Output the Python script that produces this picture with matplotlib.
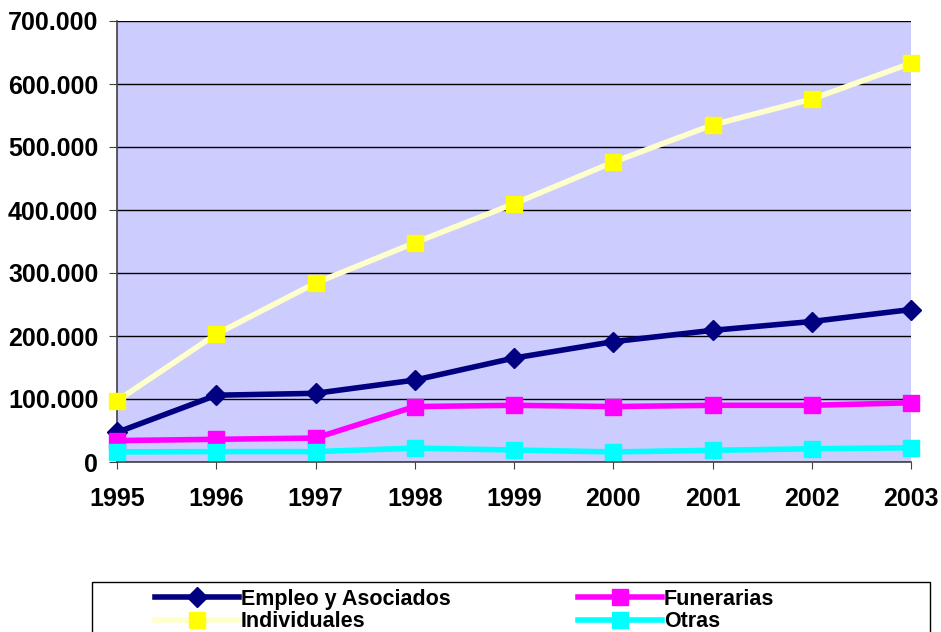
import numpy as np
import matplotlib.pyplot as plt
from matplotlib.ticker import FuncFormatter
from matplotlib.patches import Rectangle

plt.rcParams['font.family'] = ['Liberation Sans', 'DejaVu Sans']
plt.rcParams['font.weight'] = 'bold'

years = [1995, 1996, 1997, 1998, 1999, 2000, 2001, 2002, 2003]
empleo = [47000, 106000, 109000, 130000, 165000, 191000, 209000, 223000, 242000]
funerarias = [34000, 36000, 38000, 88000, 90000, 88000, 90000, 90000, 94000]
individuales = [97000, 203000, 284000, 348000, 410000, 476000, 535000, 576000, 633000]
otras = [16000, 16500, 16500, 22000, 19000, 16000, 18500, 21000, 22500]

W, H = 941, 632
fig = plt.figure(figsize=(W/100, H/100), dpi=100)
ax = fig.add_axes([117/W, 1-462/H, (911-117)/W, (462-21)/H])
ax.set_facecolor('#CCCCFF')

ax.plot(years, individuales, color='#FFFFCC', lw=4, marker='s', ms=11,
        mfc='#FFFF00', mec='#FFFF00', label='Individuales', zorder=3)
ax.plot(years, empleo, color='#000080', lw=4, marker='D', ms=10,
        mfc='#000080', mec='#000080', label='Empleo y Asociados', zorder=4)
ax.plot(years, funerarias, color='#FF00FF', lw=4, marker='s', ms=11,
        mfc='#FF00FF', mec='#FF00FF', label='Funerarias', zorder=4)
ax.plot(years, otras, color='#00FFFF', lw=4, marker='s', ms=11,
        mfc='#00FFFF', mec='#00FFFF', label='Otras', zorder=4)

ax.set_xlim(1995, 2003)
ax.set_ylim(0, 700000)
ax.set_xticks(years)
ax.set_yticks(np.arange(0, 700001, 100000))
ax.yaxis.set_major_formatter(FuncFormatter(
    lambda v, p: '0' if v == 0 else f'{int(v):,}'.replace(',', '.')))
ax.grid(axis='y', color='black', lw=1)
ax.set_axisbelow(True)
for s in ['top', 'right']:
    ax.spines[s].set_visible(False)
for s in ['left', 'bottom']:
    ax.spines[s].set_color('#404040')
    ax.spines[s].set_linewidth(1.2)
ax.tick_params(axis='x', direction='out', length=5, pad=13, labelsize=18,
               color='#404040')
ax.tick_params(axis='y', direction='out', length=5.5, pad=8, labelsize=18,
               color='#404040')
for lab in ax.get_xticklabels() + ax.get_yticklabels():
    lab.set_fontweight('bold')
for line in ax.lines:
    line.set_clip_on(False)

# legend frame (runs past the bottom edge like the original)
fig.patches.append(Rectangle((92/W, -0.05), (930-92)/W, 0.05 + 1-582/H,
                             transform=fig.transFigure, fill=False,
                             edgecolor='black', lw=1))

h, l = ax.get_legend_handles_labels()
order = [1, 0, 2, 3]
leg = fig.legend([h[i] for i in order], [l[i] for i in order], ncol=2,
                 loc='upper left', bbox_to_anchor=(155/W, 1-589/H),
                 frameon=False, prop={'size': 15.5, 'weight': 'bold'},
                 handlelength=3.9, handletextpad=0.1, borderpad=0,
                 labelspacing=0.05, columnspacing=5.9, borderaxespad=0)

fig.savefig('out.png', dpi=100)
